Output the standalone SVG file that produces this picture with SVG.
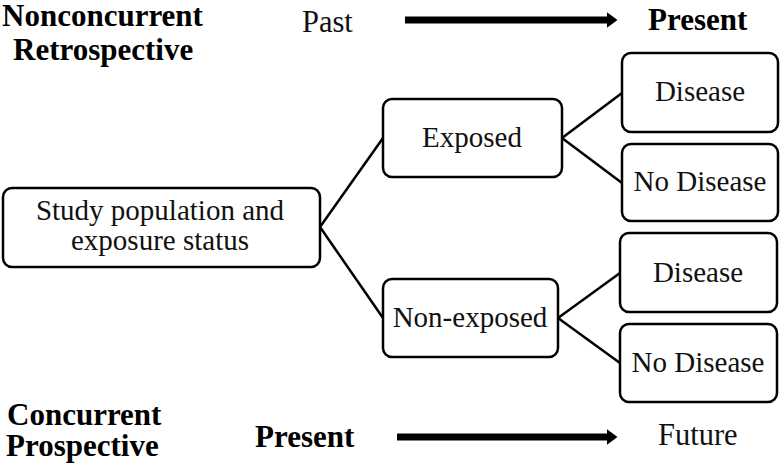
<svg xmlns="http://www.w3.org/2000/svg" width="781" height="470" viewBox="0 0 781 470">
<style>
.box{fill:#fff;stroke:#000;stroke-width:2.5}
.t{font-family:"Liberation Serif","Times New Roman",serif;font-size:29px;fill:#111;text-anchor:middle}
.b{font-family:"Liberation Serif","Times New Roman",serif;font-size:31px;font-weight:bold;fill:#000}
.r{font-family:"Liberation Serif","Times New Roman",serif;font-size:30.5px;fill:#111}
.c{stroke:#000;stroke-width:2.5;fill:none}
.ar{stroke:#000;stroke-width:7;fill:none}
</style>
<defs>
<marker id="ah" viewBox="0 0 10 10" refX="0" refY="5" markerWidth="1.5" markerHeight="2.2" orient="auto" markerUnits="strokeWidth" preserveAspectRatio="none">
<path d="M0,0 L10,5 L0,10 Z" fill="#000"/>
</marker>
</defs>
<g id="labels">
<text class="b" x="2" y="26">Nonconcurrent</text>
<text class="b" x="13" y="60">Retrospective</text>
<text class="r" x="302" y="32">Past</text>
<text class="b" x="648" y="30">Present</text>
<text class="b" x="7" y="425">Concurrent</text>
<text class="b" x="6" y="456">Prospective</text>
<text class="b" x="255" y="447">Present</text>
<text class="r" x="658" y="445">Future</text>
</g>
<g id="connectors">
<line class="ar" x1="405" y1="20" x2="607" y2="20" marker-end="url(#ah)"/>
<line class="ar" x1="397" y1="437" x2="607" y2="437" marker-end="url(#ah)"/>
<line class="c" x1="320" y1="227" x2="383" y2="138"/>
<line class="c" x1="320" y1="227" x2="383" y2="318"/>
<line class="c" x1="562" y1="138" x2="622" y2="93"/>
<line class="c" x1="562" y1="138" x2="622" y2="183"/>
<line class="c" x1="558" y1="318" x2="620" y2="273"/>
<line class="c" x1="558" y1="318" x2="620" y2="363"/>
</g>
<g id="study">
<rect class="box" x="3" y="188" width="317" height="79" rx="9"/>
<text class="t" x="160" y="220">Study population and</text>
<text class="t" x="160" y="250">exposure status</text>
</g>
<g id="exposed">
<rect class="box" x="383" y="99" width="179" height="78" rx="9"/>
<text class="t" x="472" y="147">Exposed</text>
</g>
<g id="nonexposed">
<rect class="box" x="383" y="279" width="175" height="78" rx="9"/>
<text class="t" x="470" y="327">Non-exposed</text>
</g>
<g id="disease1">
<rect class="box" x="622" y="53" width="156" height="79" rx="9"/>
<text class="t" x="700" y="101">Disease</text>
</g>
<g id="nodisease1">
<rect class="box" x="622" y="144" width="156" height="77" rx="9"/>
<text class="t" x="700" y="191">No Disease</text>
</g>
<g id="disease2">
<rect class="box" x="620" y="233" width="157" height="79" rx="9"/>
<text class="t" x="698" y="282">Disease</text>
</g>
<g id="nodisease2">
<rect class="box" x="620" y="324" width="157" height="78" rx="9"/>
<text class="t" x="698" y="372">No Disease</text>
</g>
</svg>
